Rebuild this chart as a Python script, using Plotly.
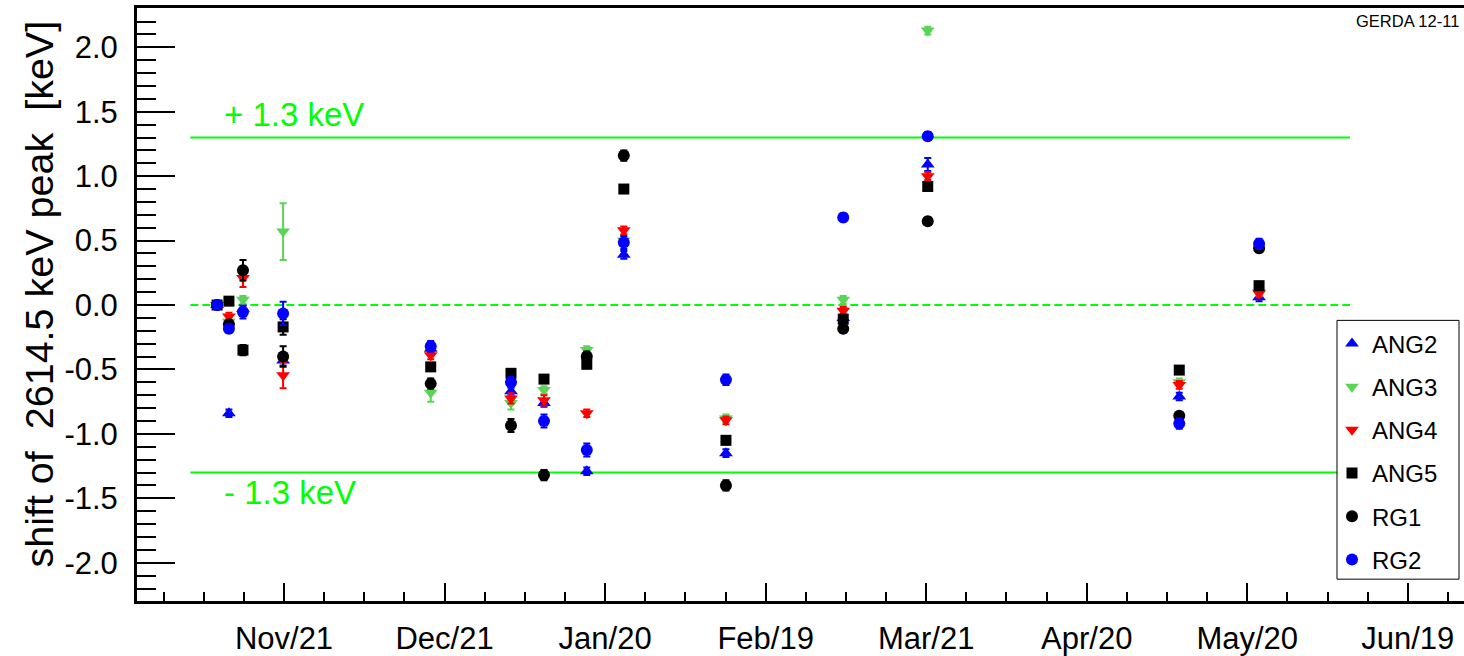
import plotly.graph_objects as go

# ---------------- data ----------------
DATES = [
    "2010-11-08 12:00", "2010-11-10 17:00", "2010-11-13 08:00", "2010-11-20 20:00",
    "2010-12-18 10:00", "2011-01-02 10:00", "2011-01-08 14:00", "2011-01-16 14:00",
    "2011-01-23 12:00", "2011-02-11 14:00", "2011-03-05 12:00", "2011-03-21 07:00",
    "2011-05-07 07:00", "2011-05-22 05:00",
]

ANG2 = [0.00, -0.84, -0.03, -0.43, -0.34, -0.67, -0.76, -1.29, 0.39, -1.15, -0.10, 1.09, -0.71, 0.06]
ANG2_ERR = [0.02, 0.03, 0.03, 0.04, 0.03, 0.03, 0.03, 0.03, 0.03, 0.03, 0.03, 0.05, 0.03, 0.03]

ANG3 = [0.00, -0.13, 0.04, 0.57, -0.68, -0.76, -0.66, -0.35, 0.50, -0.88, 0.04, 2.13, -0.60, 0.10]
ANG3_ERR = [0.02, 0.03, 0.03, 0.22, 0.07, 0.05, 0.03, 0.03, 0.03, 0.03, 0.03, 0.03, 0.03, 0.03]

ANG4 = [0.00, -0.09, 0.21, -0.545, -0.39, -0.725, -0.74, -0.84, 0.58, -0.895, -0.045, 1.00, -0.62, 0.09]
ANG4_ERR = [0.02, 0.03, 0.07, 0.10, 0.03, 0.04, 0.04, 0.03, 0.03, 0.03, 0.03, 0.03, 0.03, 0.03]

ANG5 = [0.00, 0.03, -0.35, -0.17, -0.48, -0.53, -0.575, -0.46, 0.90, -1.05, -0.11, 0.92, -0.505, 0.15]
ANG5_ERR = [0.02, 0.03, 0.04, 0.06, 0.03, 0.03, 0.03, 0.03, 0.03, 0.03, 0.03, 0.03, 0.03, 0.03]

RG1 = [0.00, -0.15, 0.27, -0.40, -0.61, -0.935, -1.32, -0.40, 1.16, -1.40, -0.185, 0.65, -0.86, 0.44]
RG1_ERR = [0.02, 0.03, 0.08, 0.08, 0.04, 0.05, 0.04, 0.04, 0.04, 0.04, 0.03, 0.03, 0.03, 0.03]

RG2 = [0.00, -0.185, -0.055, -0.065, -0.32, -0.60, -0.90, -1.125, 0.485, -0.58, 0.68, 1.31, -0.92, 0.475]
RG2_ERR = [0.02, 0.03, 0.05, 0.09, 0.04, 0.04, 0.05, 0.05, 0.05, 0.04, 0.03, 0.03, 0.04, 0.04]

SERIES = [
    ("ANG2", ANG2, ANG2_ERR, "#0000ff", "triangle-up", 12),
    ("ANG3", ANG3, ANG3_ERR, "#59d454", "triangle-down", 12),
    ("ANG4", ANG4, ANG4_ERR, "#ff0000", "triangle-down", 12),
    ("ANG5", ANG5, ANG5_ERR, "#000000", "square", 11),
    ("RG1", RG1, RG1_ERR, "#000000", "circle", 12),
    ("RG2", RG2, RG2_ERR, "#0000ff", "circle", 12),
]

LIMIT = 1.3
LIMIT_START = "2010-11-03 12:00"
LIMIT_END = "2011-06-08 05:00"

X_TICK_DATES = ["2010-11-21", "2010-12-21", "2011-01-20", "2011-02-19",
                "2011-03-21", "2011-04-20", "2011-05-20", "2011-06-19"]
X_TICK_TEXT = ["Nov/21", "Dec/21", "Jan/20", "Feb/19", "Mar/21", "Apr/20", "May/20", "Jun/19"]
Y_TICKS = [-2.0, -1.5, -1.0, -0.5, 0.0, 0.5, 1.0, 1.5, 2.0]
Y_TICK_TEXT = [f"{v:.1f}" for v in Y_TICKS]

X_RANGE = ["2010-10-24 12:45", "2011-06-29 12:00"]
Y_RANGE = [-2.297, 2.305]

FONT = "Liberation Sans, Arial, Helvetica, sans-serif"
DAY_MS = 86400000

fig = go.Figure()

for name, vals, errs, color, symbol, size in SERIES:
    fig.add_trace(go.Scatter(
        x=DATES, y=vals, mode="markers", name=name, legendgroup=name,
        marker=dict(symbol=symbol, size=size, color=color, line=dict(width=0)),
        error_y=dict(type="data", array=errs, visible=True, color=color,
                     thickness=2, width=3.5),
    ))

# limit lines and zero line
for yv in (LIMIT, -LIMIT):
    fig.add_shape(type="line", xref="x", yref="y", x0=LIMIT_START, x1=LIMIT_END,
                  y0=yv, y1=yv, line=dict(color="#00ff00", width=2), layer="below")
fig.add_shape(type="line", xref="x", yref="y", x0=LIMIT_START, x1=LIMIT_END,
              y0=0, y1=0, line=dict(color="#00ff00", width=2, dash="8px,4px"), layer="below")

W, H = 1464, 656
L, R, T, B = 137, 0, 8, 50
PW, PH = W - L - R, H - T - B


def px(x):
    return (x - L) / PW


def py(y):
    return (H - B - y) / PH


# legend frame (white box with thin black border, covers the limit lines)
fig.add_shape(type="rect", xref="paper", yref="paper",
              x0=px(1337), x1=px(1459), y0=py(584), y1=py(323),
              fillcolor="white", line=dict(color="black", width=1), layer="above")

fig.add_annotation(text="+ 1.3 keV", xref="paper", yref="paper", x=px(222), y=py(115),
                   xanchor="left", yanchor="middle", showarrow=False,
                   font=dict(family=FONT, size=33, color="#00ff00"))
fig.add_annotation(text="- 1.3 keV", xref="paper", yref="paper", x=px(222), y=py(497),
                   xanchor="left", yanchor="middle", showarrow=False,
                   font=dict(family=FONT, size=33, color="#00ff00"))
fig.add_annotation(text="GERDA 12-11", xref="paper", yref="paper", x=px(1461), y=py(21),
                   xanchor="right", yanchor="middle", showarrow=False,
                   font=dict(family=FONT, size=16.5, color="black"))
fig.add_annotation(text="shift of\u00a0 2614.5 keV peak\u00a0 [keV]", xref="paper", yref="paper",
                   x=px(39), y=py(297), xanchor="center", yanchor="middle", textangle=-90,
                   showarrow=False, font=dict(family=FONT, size=39.5, color="black"))

fig.update_layout(
    width=W, height=H, autosize=False,
    margin=dict(l=L, r=R, t=T, b=B, pad=0),
    paper_bgcolor="white", plot_bgcolor="white",
    font=dict(family=FONT, color="black"),
    showlegend=True,
    legend=dict(x=px(1332), y=py(324), xanchor="left", yanchor="top",
                bgcolor="rgba(0,0,0,0)", borderwidth=0,
                font=dict(family=FONT, size=24, color="black"),
                tracegroupgap=9, itemwidth=30),
    xaxis=dict(type="date", range=X_RANGE, showgrid=False, zeroline=False,
               showline=True, linecolor="black", linewidth=3, mirror=True,
               ticks="inside", ticklen=18, tickwidth=1.5, tickcolor="black",
               tickmode="array", tickvals=X_TICK_DATES, ticktext=X_TICK_TEXT,
               tickfont=dict(family=FONT, size=31, color="black"),
               ticklabelstandoff=8,
               minor=dict(ticks="inside", ticklen=9, tickwidth=1.5, tickcolor="black",
                          dtick=7.5 * DAY_MS, tick0=X_TICK_DATES[0], showgrid=False)),
    yaxis=dict(range=Y_RANGE, showgrid=False, zeroline=False,
               showline=True, linecolor="black", linewidth=3, mirror=False,
               ticks="inside", ticklen=38, tickwidth=1.5, tickcolor="black",
               tickmode="array", tickvals=Y_TICKS, ticktext=Y_TICK_TEXT,
               tickfont=dict(family=FONT, size=31, color="black"),
               ticklabelstandoff=10,
               minor=dict(ticks="inside", ticklen=19, tickwidth=1.5, tickcolor="black",
                          dtick=0.1, tick0=0, showgrid=False)),
)

fig.write_html("out.html", config={"displayModeBar": False})
